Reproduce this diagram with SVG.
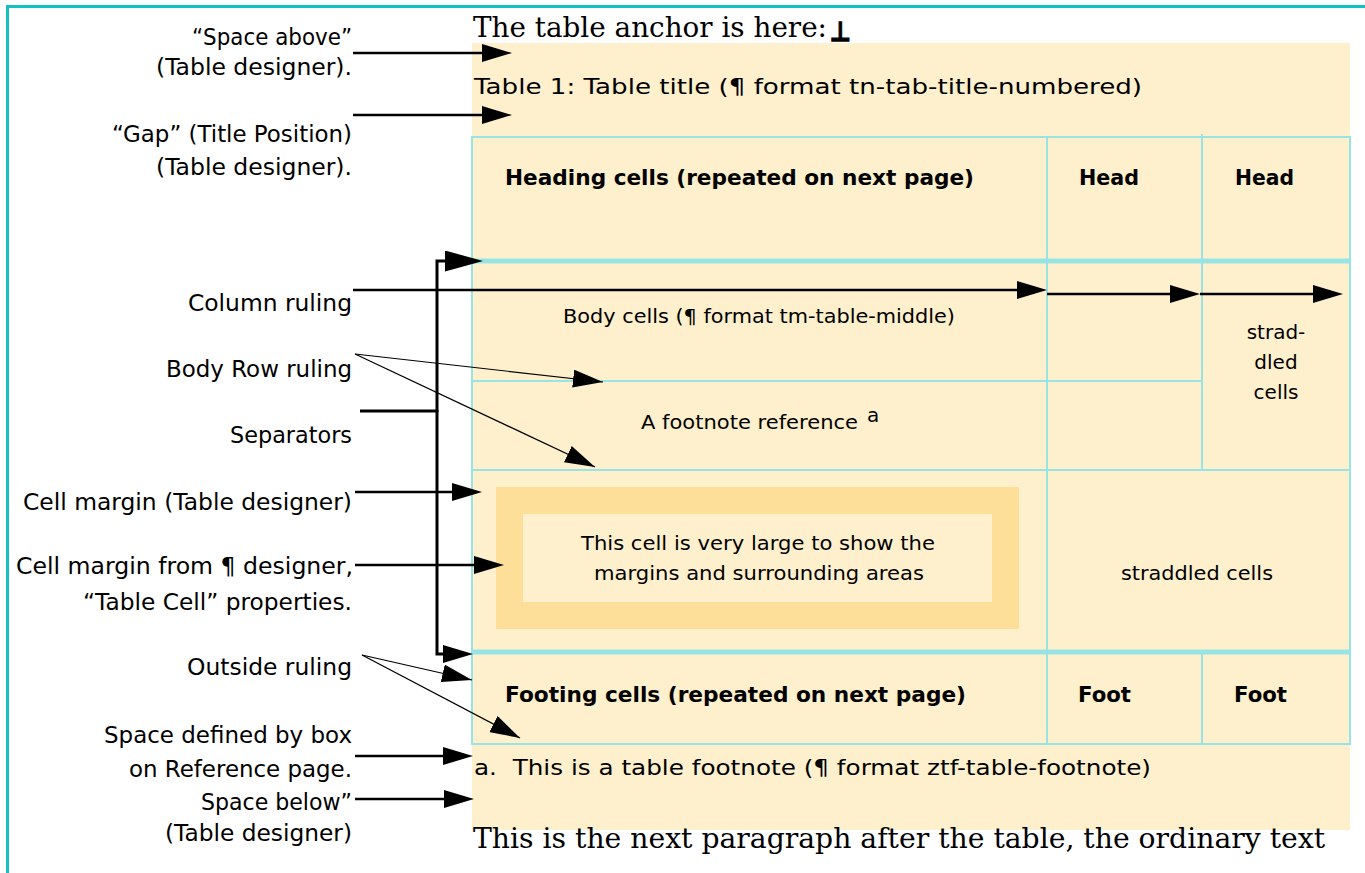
<svg xmlns="http://www.w3.org/2000/svg" width="1365" height="873" viewBox="0 0 1365 873">
  <style>
    text { fill: #000; }
    .lbl { font-family: "DejaVu Sans", "Liberation Sans", sans-serif; font-size: 23px; text-anchor: end; }
    .cell { font-family: "DejaVu Sans", "Liberation Sans", sans-serif; font-size: 20px; }
    .mid { text-anchor: middle; }
    .title { font-family: "DejaVu Sans", "Liberation Sans", sans-serif; font-size: 22px; }
    .bold { font-family: "DejaVu Sans", "Liberation Sans", sans-serif; font-size: 22px; font-weight: bold; }
    .serif { font-family: "DejaVu Serif", "Liberation Serif", serif; font-size: 27px; }
    .rule { stroke: #98E4E4; stroke-width: 2; fill: none; }
    .rule-thick { stroke: #98E4E4; stroke-width: 5; fill: none; }
    .conn { stroke: #000; stroke-width: 2.5; fill: none; }
    .conn-thin { stroke: #000; stroke-width: 1.2; fill: none; }
    .bracket { stroke: #000; stroke-width: 3; fill: none; }
  </style>
  <defs>
    <marker id="ah" markerUnits="userSpaceOnUse" markerWidth="30" markerHeight="18" refX="20" refY="9" orient="auto">
      <path d="M0,0 L30,9 L0,18 Z" fill="#000"/>
    </marker>
    <marker id="ahT" markerUnits="userSpaceOnUse" markerWidth="30" markerHeight="18" refX="30" refY="9" orient="auto">
      <path d="M0,0 L30,9 L0,18 Z" fill="#000"/>
    </marker>
    <marker id="ahL" markerUnits="userSpaceOnUse" markerWidth="38" markerHeight="21" refX="28" refY="10.5" orient="auto">
      <path d="M0,0 L38,10.5 L0,21 Z" fill="#000"/>
    </marker>
  </defs>

  <rect width="1365" height="873" fill="#fff"/>

  <!-- outer frame -->
  <path id="frame" d="M7.5,873 V6.5 H1365" stroke="#14C0C0" stroke-width="3" fill="none"/>

  <!-- anchor paragraph -->
  <g id="anchor-text">
    <text class="serif" x="473" y="37" textLength="354" lengthAdjust="spacingAndGlyphs">The table anchor is here:</text>
    <text x="830" y="41" font-family="DejaVu Sans, sans-serif" font-weight="bold" font-size="27" stroke="#000" stroke-width="1.3" textLength="21" lengthAdjust="spacingAndGlyphs">⊥</text>
  </g>

  <!-- table shading -->
  <g id="table-background">
    <rect x="472" y="43" width="878" height="787" fill="#FEF0CC"/>
  </g>

  <!-- title -->
  <g id="table-title">
    <text class="title" x="474" y="94" textLength="668" lengthAdjust="spacingAndGlyphs">Table 1: Table title (¶ format tn-tab-title-numbered)</text>
  </g>

  <!-- large cell margin areas -->
  <g id="large-cell">
    <rect x="496" y="487" width="523" height="142" fill="#FEDF9A"/>
    <rect x="523" y="514" width="469" height="88" fill="#FEF0CC"/>
    <text class="cell mid" x="758" y="550" textLength="354" lengthAdjust="spacingAndGlyphs">This cell is very large to show the</text>
    <text class="cell mid" x="759" y="580" textLength="330" lengthAdjust="spacingAndGlyphs">margins and surrounding areas</text>
  </g>

  <!-- table rulings -->
  <g id="table-rulings">
    <line class="rule" x1="471" y1="137" x2="1351" y2="137"/>
    <line class="rule" x1="472" y1="136" x2="472" y2="745"/>
    <line class="rule" x1="1350" y1="136" x2="1350" y2="745"/>
    <line class="rule" x1="1047" y1="136" x2="1047" y2="745"/>
    <line class="rule" x1="1202" y1="134" x2="1202" y2="470"/>
    <line class="rule" x1="1202" y1="652" x2="1202" y2="745"/>
    <line class="rule" x1="472" y1="381" x2="1202" y2="381"/>
    <line class="rule" x1="472" y1="470" x2="1350" y2="470"/>
    <line class="rule" x1="471" y1="744" x2="1351" y2="744"/>
    <line class="rule-thick" x1="471" y1="261" x2="1351" y2="261"/>
    <line class="rule-thick" x1="471" y1="652" x2="1351" y2="652"/>
  </g>

  <!-- heading row -->
  <g id="heading-cell">
    <text class="bold" x="505" y="185" textLength="469" lengthAdjust="spacingAndGlyphs">Heading cells (repeated on next page)</text>
  </g>
  <g id="head-cell-1">
    <text class="bold" x="1079" y="185" textLength="60" lengthAdjust="spacingAndGlyphs">Head</text>
  </g>
  <g id="head-cell-2">
    <text class="bold" x="1235" y="185" textLength="59" lengthAdjust="spacingAndGlyphs">Head</text>
  </g>

  <!-- body rows -->
  <g id="body-cell">
    <text class="cell" x="563" y="323" textLength="392" lengthAdjust="spacingAndGlyphs">Body cells (¶ format tm-table-middle)</text>
  </g>
  <g id="footnote-ref-cell">
    <text class="cell" x="641" y="429" textLength="217" lengthAdjust="spacingAndGlyphs">A footnote reference</text>
    <text class="cell" x="867" y="422" font-size="14">a</text>
  </g>
  <g id="straddled-vertical">
    <text class="cell mid" x="1276" y="339">strad-</text>
    <text class="cell mid" x="1276" y="369">dled</text>
    <text class="cell mid" x="1276" y="399">cells</text>
  </g>
  <g id="straddled-horizontal">
    <text class="cell mid" x="1197" y="580" textLength="152" lengthAdjust="spacingAndGlyphs">straddled cells</text>
  </g>

  <!-- footing row -->
  <g id="footing-cell">
    <text class="bold" x="505" y="702" textLength="461" lengthAdjust="spacingAndGlyphs">Footing cells (repeated on next page)</text>
  </g>
  <g id="foot-cell-1">
    <text class="bold" x="1078" y="702" textLength="53" lengthAdjust="spacingAndGlyphs">Foot</text>
  </g>
  <g id="foot-cell-2">
    <text class="bold" x="1234" y="702" textLength="53" lengthAdjust="spacingAndGlyphs">Foot</text>
  </g>

  <!-- table footnote -->
  <g id="table-footnote">
    <text class="title" x="474" y="775" textLength="677" lengthAdjust="spacingAndGlyphs">a.&#160; This is a table footnote (¶ format ztf-table-footnote)</text>
  </g>

  <!-- next paragraph -->
  <g id="next-paragraph">
    <text class="serif" x="473" y="848" textLength="852" lengthAdjust="spacingAndGlyphs">This is the next paragraph after the table, the ordinary text</text>
  </g>

  <!-- labels -->
  <g id="label-space-above">
    <text class="lbl" x="352" y="45" textLength="160" lengthAdjust="spacingAndGlyphs">“Space above”</text>
    <text class="lbl" x="352" y="75" textLength="196" lengthAdjust="spacingAndGlyphs">(Table designer).</text>
  </g>
  <g id="label-gap">
    <text class="lbl" x="352" y="142" textLength="240" lengthAdjust="spacingAndGlyphs">“Gap” (Title Position)</text>
    <text class="lbl" x="352" y="175" textLength="196" lengthAdjust="spacingAndGlyphs">(Table designer).</text>
  </g>
  <g id="label-column-ruling">
    <text class="lbl" x="352" y="311" textLength="164" lengthAdjust="spacingAndGlyphs">Column ruling</text>
  </g>
  <g id="label-body-row-ruling">
    <text class="lbl" x="352" y="377" textLength="186" lengthAdjust="spacingAndGlyphs">Body Row ruling</text>
  </g>
  <g id="label-separators">
    <text class="lbl" x="352" y="443" textLength="122" lengthAdjust="spacingAndGlyphs">Separators</text>
  </g>
  <g id="label-cell-margin-table">
    <text class="lbl" x="352" y="510" textLength="329" lengthAdjust="spacingAndGlyphs">Cell margin (Table designer)</text>
  </g>
  <g id="label-cell-margin-para">
    <text class="lbl" x="353" y="574" textLength="337" lengthAdjust="spacingAndGlyphs">Cell margin from ¶ designer,</text>
    <text class="lbl" x="352" y="610" textLength="269" lengthAdjust="spacingAndGlyphs">“Table Cell” properties.</text>
  </g>
  <g id="label-outside-ruling">
    <text class="lbl" x="352" y="675" textLength="165" lengthAdjust="spacingAndGlyphs">Outside ruling</text>
  </g>
  <g id="label-space-box">
    <text class="lbl" x="352" y="743" textLength="248" lengthAdjust="spacingAndGlyphs">Space defined by box</text>
    <text class="lbl" x="352" y="777" textLength="223" lengthAdjust="spacingAndGlyphs">on Reference page.</text>
  </g>
  <g id="label-space-below">
    <text class="lbl" x="352" y="810" textLength="151" lengthAdjust="spacingAndGlyphs">Space below”</text>
    <text class="lbl" x="352" y="841" textLength="187" lengthAdjust="spacingAndGlyphs">(Table designer)</text>
  </g>

  <!-- connectors -->
  <g id="connectors">
    <path class="conn" d="M353,53 H502" marker-end="url(#ah)"/>
    <path class="conn" d="M353,115 H502" marker-end="url(#ah)"/>
    <path class="conn" d="M353,290 H1037" marker-end="url(#ah)"/>
    <path class="conn" d="M1047,294 H1190" marker-end="url(#ah)"/>
    <path class="conn" d="M1200,294 H1333" marker-end="url(#ah)"/>
    <path class="conn-thin" d="M355,354 L603,382" marker-end="url(#ahT)"/>
    <path class="conn-thin" d="M355,354 L595,467" marker-end="url(#ahT)"/>
    <path class="bracket" d="M360,411 H437"/>
    <path class="bracket" d="M437,412 V261 H473" marker-end="url(#ahL)"/>
    <path class="bracket" d="M437,410 V654 H463" marker-end="url(#ah)"/>
    <path class="conn" d="M355,492 H472" marker-end="url(#ah)"/>
    <path class="conn" d="M355,565 H494" marker-end="url(#ah)"/>
    <path class="conn-thin" d="M362,655 L472,680" marker-end="url(#ahT)"/>
    <path class="conn-thin" d="M362,655 L520,738" marker-end="url(#ahT)"/>
    <path class="conn" d="M355,756 H463" marker-end="url(#ah)"/>
    <path class="conn" d="M355,799 H464" marker-end="url(#ah)"/>
  </g>
</svg>
